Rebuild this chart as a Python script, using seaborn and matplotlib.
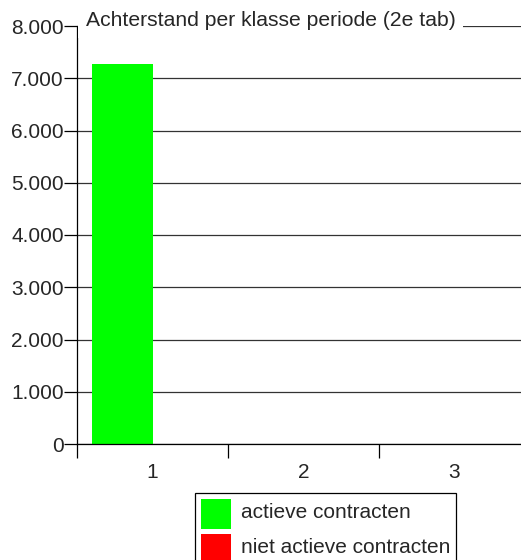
import numpy as np
import pandas as pd
import seaborn as sns
import matplotlib.pyplot as plt
from matplotlib.ticker import FuncFormatter, FixedLocator
from matplotlib.patches import Rectangle
from matplotlib.legend_handler import HandlerPatch

# data
categories = ['1', '2', '3']
actieve = [7280, 0, 0]
niet_actieve = [0, 0, 0]
series_names = ['actieve contracten', 'niet actieve contracten']
yticks = [0, 1000, 2000, 3000, 4000, 5000, 6000, 7000, 8000]
title = 'Achterstand per klasse periode (2e tab)'

df = pd.DataFrame({
    'klasse': categories * 2,
    'aantal': actieve + niet_actieve,
    'soort': [series_names[0]] * 3 + [series_names[1]] * 3,
})

sns.set_style('white')
plt.rcParams['font.family'] = ['Liberation Sans', 'DejaVu Sans']
fs = 15

fig = plt.figure(figsize=(5.21, 5.60), dpi=100)
ax = fig.add_axes([77 / 521, 1 - 444 / 560, 453 / 521, 418 / 560])

sns.barplot(data=df, x='klasse', y='aantal', hue='soort', order=categories,
            hue_order=series_names, palette=['#00ff00', '#ff0000'],
            saturation=1, width=0.8, linewidth=0, ax=ax)

ax.set_xlim(-0.5, 2.5)
ax.set_ylim(0, 8000)
ax.set_xlabel('')
ax.set_ylabel('')
ax.set_yticks(yticks)
ax.yaxis.set_major_formatter(FuncFormatter(lambda v, p: f'{int(v):,}'.replace(',', '.')))
ax.yaxis.grid(True, color='#333333', linewidth=0.9)
ax.set_axisbelow(True)

for s in ['top', 'right']:
    ax.spines[s].set_visible(False)
ax.spines['left'].set_color('black')
ax.spines['bottom'].set_color('black')
ax.spines['left'].set_linewidth(0.9)
ax.spines['bottom'].set_linewidth(0.9)

ax.tick_params(axis='y', which='major', left=True, length=9.5, width=0.9,
               color='black', pad=0, labelsize=fs)
ax.xaxis.set_minor_locator(FixedLocator([-0.5, 0.5, 1.5, 2.5]))
ax.tick_params(axis='x', which='minor', bottom=True, length=10, width=0.9, color='black')
ax.tick_params(axis='x', which='major', bottom=False, length=0, pad=14, labelsize=fs)

# title sits on the top gridline, white box hides the line behind it
ax.text(-0.44, 8000, title, fontsize=15.2, ha='left', va='baseline',
        bbox=dict(facecolor='white', edgecolor='none', pad=5.5))


# square legend swatches, top aligned with the text row
def square(legend, orig_handle, xdescent, ydescent, width, height, fontsize):
    size = 1.44 * fontsize
    return Rectangle((-xdescent, height - ydescent - size), width, size)


sns.move_legend(ax, loc='upper left', bbox_to_anchor=(195 / 521, 1 - 493 / 560),
                bbox_transform=fig.transFigure, title=None, frameon=True,
                fancybox=False, fontsize=fs, handlelength=1.44, handleheight=1.44,
                handletextpad=0.48, labelspacing=0.5, borderpad=0.29,
                borderaxespad=0, edgecolor='black', framealpha=1,
                handler_map={Rectangle: HandlerPatch(patch_func=square)})
ax.get_legend().get_frame().set_linewidth(0.9)

fig.savefig('out.png', dpi=100)
